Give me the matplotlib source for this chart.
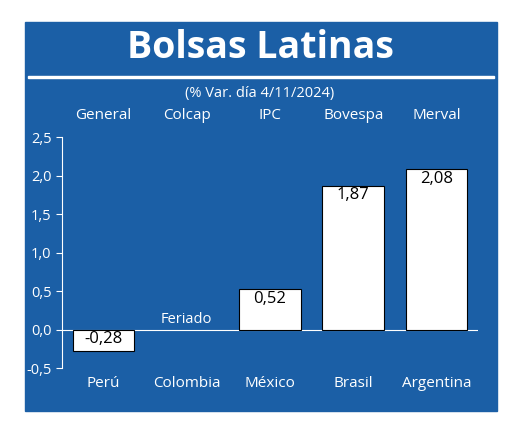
import matplotlib
matplotlib.use("Agg")
import matplotlib.pyplot as plt
from matplotlib.patches import Rectangle

indices = ["General", "Colcap", "IPC", "Bovespa", "Merval"]
countries = ["Perú", "Colombia", "México", "Brasil", "Argentina"]
values = [-0.28, None, 0.52, 1.87, 2.08]
labels = ["-0,28", "Feriado", "0,52", "1,87", "2,08"]
yticks = [-0.5, 0.0, 0.5, 1.0, 1.5, 2.0, 2.5]

plt.rcParams['font.family'] = ['Open Sans', 'DejaVu Sans']
BLUE = "#1b5fa6"
W, H = 520, 429
fig = plt.figure(figsize=(W/100, H/100), dpi=100)
fig.patch.set_facecolor("white")
bg = fig.add_axes([0, 0, 1, 1], zorder=0)
bg.set_xlim(0, W); bg.set_ylim(H, 0); bg.axis("off")
bg.add_patch(Rectangle((25, 22), 472, 389, color=BLUE))
bg.add_patch(Rectangle((28, 76), 466, 1.5, color="white"))
bg.text(W/2, 48, "Bolsas Latinas", color="white", fontsize=27, fontweight="bold", ha="center", va="center")
bg.text(W/2, 93, "(% Var. día 4/11/2024)", color="white", fontsize=10.5, ha="center", va="center")

ax = fig.add_axes([62/W, 1-368/H, 416/W, 231/H], zorder=1)
ax.patch.set_alpha(0)
ax.set_xlim(-0.5, 4.5)
ax.set_ylim(-0.5, 2.5)
for i, v in enumerate(values):
    if v is not None:
        ax.bar(i, v, width=0.74, color="white", edgecolor="black", linewidth=0.8, zorder=3)
        ytxt = v - 0.02 if v > 0 else -0.02
        ax.text(i, ytxt, labels[i], ha="center", va="top", fontsize=12, color="black", zorder=4)
    else:
        ax.text(i, 0.03, labels[i], ha="center", va="bottom", fontsize=10.5, color="white")
    ax.text(i, 2.78, indices[i], ha="center", va="center", fontsize=11, color="white", clip_on=False)
    ax.text(i, -0.7, countries[i], ha="center", va="center", fontsize=11, color="white", clip_on=False)
ax.set_yticks(yticks)
ax.set_yticklabels([f"{t:.1f}".replace(".", ",") for t in yticks], color="white", fontsize=10.5)
ax.set_xticks([])
for s in ["top", "right", "bottom"]:
    ax.spines[s].set_visible(False)
ax.spines["left"].set_color("white")
ax.tick_params(axis="y", colors="white", length=4)
ax.axhline(0, color="white", linewidth=0.8, zorder=2)
fig.savefig("out.png", dpi=100, facecolor="white")
